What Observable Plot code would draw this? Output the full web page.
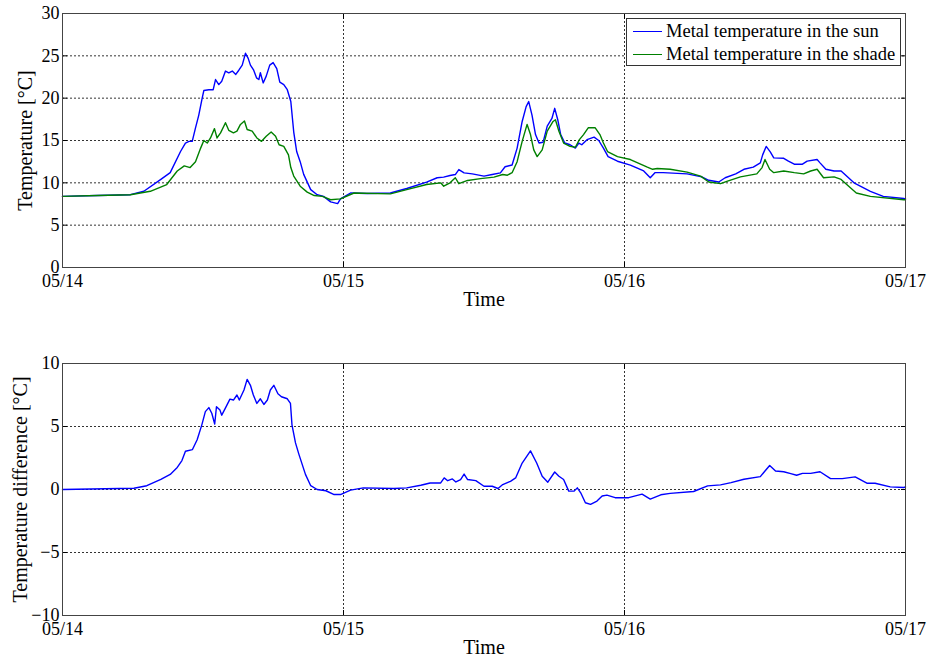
<!DOCTYPE html>
<html><head><meta charset="utf-8">
<script src="https://cdn.jsdelivr.net/npm/d3@7"></script>
<script src="https://cdn.jsdelivr.net/npm/@observablehq/plot@0.6"></script>
<style>
body{margin:0;background:#fff;}
#wrap{position:relative;width:928px;height:658px;overflow:hidden;font-family:'Liberation Serif','Times New Roman',serif;}
#wrap svg{display:block;}
#wrap svg text{font-family:'Liberation Serif','Times New Roman',serif !important;}
#legend{position:absolute;left:626px;top:18px;width:275px;height:48px;border:1px solid #333;background:#fff;box-sizing:border-box;font-size:18.5px;}
#legend .row{position:absolute;left:0;height:22px;line-height:22px;white-space:nowrap;}
#legend .sw{position:absolute;left:6px;top:11px;width:29px;height:0;border-top:1.5px solid;}
#legend .tx{position:absolute;left:39px;top:0;}
</style>
</head><body>
<div id="wrap"><div id="top"></div><div id="bottom"></div>
<div id="legend"></div></div>
<script>
// x positions in hours since 05/14 00:00
const xTicks = [0, 24, 48, 72];
const xTickLabels = ["05/14", "05/15", "05/16", "05/17"];
const xLabel = "Time";

const topYTicks = [0, 5, 10, 15, 20, 25, 30];
const topYLabel = "Temperature [°C]";
const bottomYTicks = [-10, -5, 0, 5, 10];
const bottomYLabel = "Temperature difference [°C]";

const seriesNames = ["Metal temperature in the sun", "Metal temperature in the shade"];
const seriesColors = ["#0000ff", "#008000"];

const sunHours = [0,3,5.8,6.95,8.4,9.2,10.08,10.5,10.8,11.08,11.36,11.64,11.93,12.07,12.5,12.87,13.07,13.35,13.6,13.92,14.2,14.5,14.8,15.06,15.35,15.63,15.86,16.05,16.33,16.57,16.77,16.9,17.14,17.4,17.7,17.99,18.3,18.56,18.9,19.2,19.5,19.75,20.0,20.3,20.6,21.2,21.75,22.3,22.9,23.5,23.74,24.6,26.0,28.0,29.4,31.1,32.0,32.55,33.1,33.55,33.85,34.3,35.0,36.0,36.7,37.4,37.8,38.4,38.83,39.26,39.6,39.82,40.1,40.4,40.7,41.05,41.4,41.8,42.04,42.3,42.55,42.9,43.35,43.8,44.1,44.35,44.8,45.4,45.8,46.2,46.6,47.4,48.5,49.64,50.2,50.6,51.3,53.35,54.6,55.2,56.05,56.6,57.5,58.2,59.0,59.6,59.8,60.1,60.45,60.75,61.6,62.0,62.5,63.2,63.6,64.45,64.7,65.2,65.9,66.5,67.6,69.0,70.1,71.85,72];
const sunTemp = [8.4,8.5,8.6,9.0,10.4,11.2,13.7,14.7,14.9,14.9,16.5,18.0,20.0,20.9,21.0,21.0,22.2,21.6,22.0,23.2,23.0,23.2,22.8,23.3,23.9,25.3,24.7,23.9,23.3,22.4,22.2,23.0,21.8,22.6,23.9,24.2,23.5,21.9,21.6,21.0,19.6,16.0,13.7,12.5,11.0,9.2,8.6,8.4,7.75,7.55,8.1,8.8,8.74,8.8,9.33,10.08,10.6,10.67,10.87,10.98,11.57,11.18,11.06,10.79,10.98,11.18,11.9,12.1,14.1,17.25,19.0,19.6,18.0,15.7,14.7,14.8,16.7,17.6,18.8,17.45,15.7,14.7,14.5,14.1,14.7,14.5,15.1,15.4,15.0,14.1,13.1,12.55,12.1,11.4,10.6,11.2,11.2,11.06,10.7,10.3,10.1,10.6,11.06,11.6,11.85,12.36,13.3,14.3,13.66,12.95,12.9,12.56,12.2,12.2,12.56,12.76,12.36,11.6,11.4,11.4,10.0,9.0,8.4,8.15,8.1];

const shadeHours = [0,3,5.8,7.5,8.9,9.8,10.4,10.9,11.36,11.8,12.07,12.36,12.64,12.98,13.2,13.5,13.92,14.2,14.6,14.9,15.2,15.54,15.77,16.2,16.6,17.0,17.4,17.82,18.2,18.5,18.9,19.3,19.5,19.75,20.3,20.9,21.5,22.2,22.9,23.74,24.9,28.0,29.4,31.1,32.3,32.56,33.1,33.55,33.85,34.6,35.7,36.85,37.6,38.0,38.4,38.83,39.26,39.68,39.97,40.25,40.54,40.97,41.4,41.9,42.1,42.4,42.8,43.35,43.8,44.15,44.5,44.9,45.5,45.9,46.2,46.55,47.4,48.5,49.95,50.4,50.8,51.9,53.35,54.5,55.2,56.2,56.8,57.9,59.3,59.75,60.0,60.4,60.75,61.6,62.5,63.3,63.9,64.45,65.0,65.9,66.5,67.8,69.0,71.85,72];
const shadeTemp = [8.4,8.5,8.6,9.0,9.8,11.4,12.0,11.8,12.5,14.1,15.0,14.7,15.3,16.4,15.3,15.9,17.1,16.2,15.9,16.1,16.9,17.3,16.3,16.1,15.3,14.9,15.5,16.0,15.5,14.5,14.3,13.3,11.8,10.8,9.6,8.9,8.5,8.4,8.0,8.1,8.8,8.7,9.2,9.8,10.0,9.6,10.0,10.6,9.9,10.28,10.5,10.67,10.98,10.9,11.2,12.5,14.9,16.9,15.7,13.9,13.1,13.9,16.1,17.25,17.45,16.1,14.7,14.3,14.2,15.1,15.7,16.5,16.5,15.7,14.7,13.7,13.1,12.75,11.85,11.6,11.7,11.6,11.26,10.8,10.1,9.9,10.2,10.7,11.06,11.8,12.76,11.6,11.2,11.4,11.2,11.06,11.4,11.6,10.6,10.7,10.4,8.8,8.4,8.0,8.0];

const diffHours = [0,6.1,7.2,8.4,9.2,9.8,10.2,10.5,11.1,11.5,11.9,12.2,12.5,12.75,13.0,13.15,13.45,13.6,13.9,14.3,14.6,14.9,15.1,15.5,15.77,16.05,16.3,16.6,16.9,17.2,17.5,17.75,18.05,18.4,18.7,19.2,19.47,19.6,19.9,20.2,20.75,21.2,21.75,22.5,23.2,23.74,24.6,25.7,28.3,29.4,30.6,31.4,32.3,32.6,32.9,33.3,33.6,34.0,34.3,34.6,35.3,36.0,36.7,37.2,37.6,38.26,38.7,39.26,39.97,40.5,40.97,41.45,42.04,42.4,42.8,43.24,43.7,43.97,44.26,44.66,45.1,45.65,46.09,46.5,47.2,48.36,49.5,50.2,51.1,51.9,53.9,55.1,56.2,57.1,58.2,59.6,60.0,60.4,60.9,61.6,62.2,62.7,63.2,63.9,64.7,65.6,66.6,67.7,68.7,69.4,70.7,71.85,72];
const diffTemp = [0,0.1,0.3,0.8,1.2,1.75,2.3,3.04,3.17,3.95,5.13,6.18,6.5,6.05,5.2,6.57,6.3,5.9,6.44,7.17,7.1,7.5,7.1,7.9,8.74,8.27,7.5,6.83,7.2,6.75,7.1,7.9,8.27,7.6,7.36,7.2,6.83,5.13,3.7,2.77,1.2,0.3,0,-0.1,-0.4,-0.4,-0.05,0.13,0.08,0.13,0.34,0.52,0.52,0.92,0.7,0.84,0.6,0.79,1.23,0.79,0.7,0.26,0.26,0.08,0.39,0.65,0.92,2.1,3.06,2.1,1.05,0.58,1.39,1.05,0.79,-0.13,-0.13,0.13,-0.26,-1.05,-1.18,-0.92,-0.52,-0.45,-0.65,-0.65,-0.37,-0.76,-0.42,-0.31,-0.16,0.29,0.37,0.55,0.81,1.02,1.47,1.91,1.47,1.41,1.26,1.13,1.28,1.28,1.41,0.86,0.86,1.0,0.5,0.5,0.21,0.16,0.2];

const font = "'Liberation Serif','Times New Roman',serif";
const gridStyle = {stroke: "#000", strokeOpacity: 0.8, strokeDasharray: "2,2"};

function panel({height, marginTop, marginBottom, yDomain, yTicks, yLabel, yLabelDx, lines}) {
  const svg = Plot.plot({
    width: 928, height, marginLeft: 62, marginRight: 23, marginTop, marginBottom,
    style: {fontFamily: font, fontSize: "18px", color: "#000", background: "#fff", overflow: "visible"},
    x: {domain: [0, 72]},
    y: {domain: yDomain},
    marks: [
      Plot.gridX(xTicks, gridStyle),
      Plot.gridY(yTicks, gridStyle),
      Plot.axisX(xTicks, {tickFormat: d => xTickLabels[xTicks.indexOf(d)], tickSize: -5, tickPadding: 12, label: null, fontFamily: font, fontSize: 18}),
      Plot.axisX(xTicks, {anchor: "top", tickFormat: () => "", tickSize: -5, label: null}),
      Plot.axisY(yTicks, {tickSize: -5, tickPadding: 8, label: null, fontFamily: font, fontSize: 18}),
      Plot.axisY(yTicks, {anchor: "right", tickFormat: () => "", tickSize: -5, label: null}),
      ...lines,
      Plot.frame({stroke: "#444"}),
      Plot.text([xLabel], {text: d => d, frameAnchor: "bottom", dy: 24, lineAnchor: "top", fontSize: 20, fontFamily: font}),
      Plot.text([yLabel], {text: d => d, frameAnchor: "left", dx: yLabelDx, rotate: -90, textAnchor: "middle", fontSize: 20, fontFamily: font})
    ]
  });
  svg.querySelectorAll("text").forEach(t => t.style.fontFamily = font);
  return svg;
}

document.getElementById("top").append(panel({
  height: 329, marginTop: 13, marginBottom: 62, yDomain: [0, 30], yTicks: topYTicks,
  yLabel: topYLabel, yLabelDx: -37,
  lines: [
    Plot.lineY(sunTemp, {x: sunHours, stroke: seriesColors[0], strokeWidth: 1.4}),
    Plot.lineY(shadeTemp, {x: shadeHours, stroke: seriesColors[1], strokeWidth: 1.4})
  ]
}));

document.getElementById("bottom").append(panel({
  height: 329, marginTop: 34, marginBottom: 43, yDomain: [-10, 10], yTicks: bottomYTicks,
  yLabel: bottomYLabel, yLabelDx: -42,
  lines: [
    Plot.lineY(diffTemp, {x: diffHours, stroke: seriesColors[0], strokeWidth: 1.4})
  ]
}));

const legend = document.getElementById("legend");
seriesNames.forEach((name, i) => {
  const row = document.createElement("div");
  row.className = "row";
  row.style.top = (1 + i * 23) + "px";
  const sw = document.createElement("span");
  sw.className = "sw";
  sw.style.borderTopColor = seriesColors[i];
  const tx = document.createElement("span");
  tx.className = "tx";
  tx.textContent = name;
  row.append(sw, tx);
  legend.append(row);
});
</script>
</body></html>
